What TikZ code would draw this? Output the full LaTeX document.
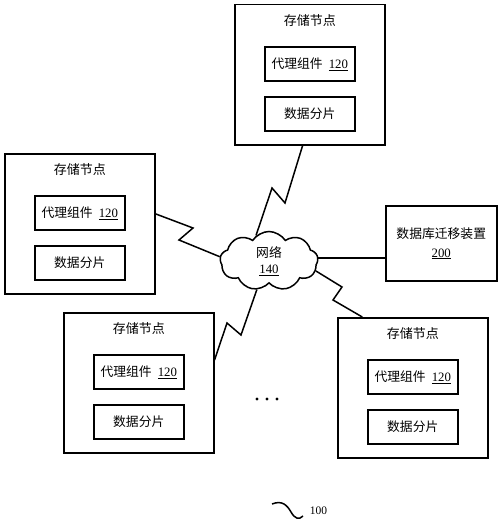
\documentclass[tikz,border=0pt]{standalone}
\usepackage{fontspec}
\setmainfont{Liberation Serif}
\newfontfamily\cjk{Noto Sans CJK SC}
\usetikzlibrary{shapes.symbols,calc}
\newcommand\storenode[3]{%
  \node[outerbox, anchor=north west] (#1) at (#2,#3) {};
  \node[lbl] (#1t) at ($(#1.north)+(0,17)$) {\cjk 存储节点};
  \node[innerbox] (#1a) at ($(#1.north)+(0,60)$) {{\cjk 代理组件}\hspace{6pt}\underline{120}};
  \node[innerbox] (#1b) at ($(#1.north)+(0,110)$) {\cjk 数据分片};
}
\begin{document}
\begin{tikzpicture}[x=1pt,y=-1pt, line width=1.5pt,
  outerbox/.style={draw, minimum width=150pt, minimum height=140pt, inner sep=0pt},
  innerbox/.style={draw, minimum width=90pt, minimum height=34pt, inner sep=0pt, font=\fontsize{12.8pt}{15pt}\selectfont},
  lbl/.style={font=\fontsize{13pt}{15pt}\selectfont, inner sep=0pt},
  link/.style={line width=1.5pt, line join=miter}]
\useasboundingbox (0,0) rectangle (500,524);

\storenode{top}{234}{4}
\storenode{left}{4}{153}
\storenode{bl}{63}{312}
\storenode{br}{337}{317}

\node[draw, minimum width=111pt, minimum height=75pt, inner sep=0pt, anchor=north west, align=center,
      font=\fontsize{12.8pt}{19pt}\selectfont] (db) at (385,205) {\cjk 数据库迁移装置\\ \rmfamily\underline{200}};

\node[cloud, draw, cloud puffs=9, cloud puff arc=115, aspect=1.7, minimum width=98pt, minimum height=59pt, inner sep=0pt,
      align=center, font=\fontsize{12.8pt}{16pt}\selectfont] (net) at (269,261) {\cjk 网络\\ \rmfamily\underline{140}};

\coordinate (t1) at (285,203);
\coordinate (t2) at (272,188);
\draw[link] ($(top.south west)!0.453!(top.south east)$) -- (t1) -- (t2) -- (net.117);

\coordinate (l1) at (193,228);
\coordinate (l2) at (179,240);
\draw[link] ($(left.north east)!0.43!(left.south east)$) -- (l1) -- (l2) -- (net.175);

\coordinate (dbin) at ($(db.west)+(0,15)$);
\draw[link, line width=2pt] ([xshift=-1pt]dbin -| net.east) -- (dbin);

\coordinate (r1) at (342,287);
\coordinate (r2) at (333,300);
\draw[link] (net.-12) -- (r1) -- (r2) -- ($(br.north west)!0.167!(br.north east)$);

\coordinate (b1) at (241,335);
\coordinate (b2) at (227,323);
\draw[link] (net.-113) -- (b1) -- (b2) -- ($(bl.north east)!0.34!(bl.south east)$);

\fill (257,399) circle (1.6pt);
\fill (267,399) circle (1.6pt);
\fill (277,399) circle (1.6pt);

\node[anchor=west, inner sep=0pt, font=\fontsize{11.5pt}{14pt}\selectfont] (ref) at (309,511) {100};
\draw[line width=1.5pt] (272,504) .. controls (282,500) and (287,505) .. (291,512) .. controls (295,519) and (299,520) .. (303,516);
\end{tikzpicture}
\end{document}
